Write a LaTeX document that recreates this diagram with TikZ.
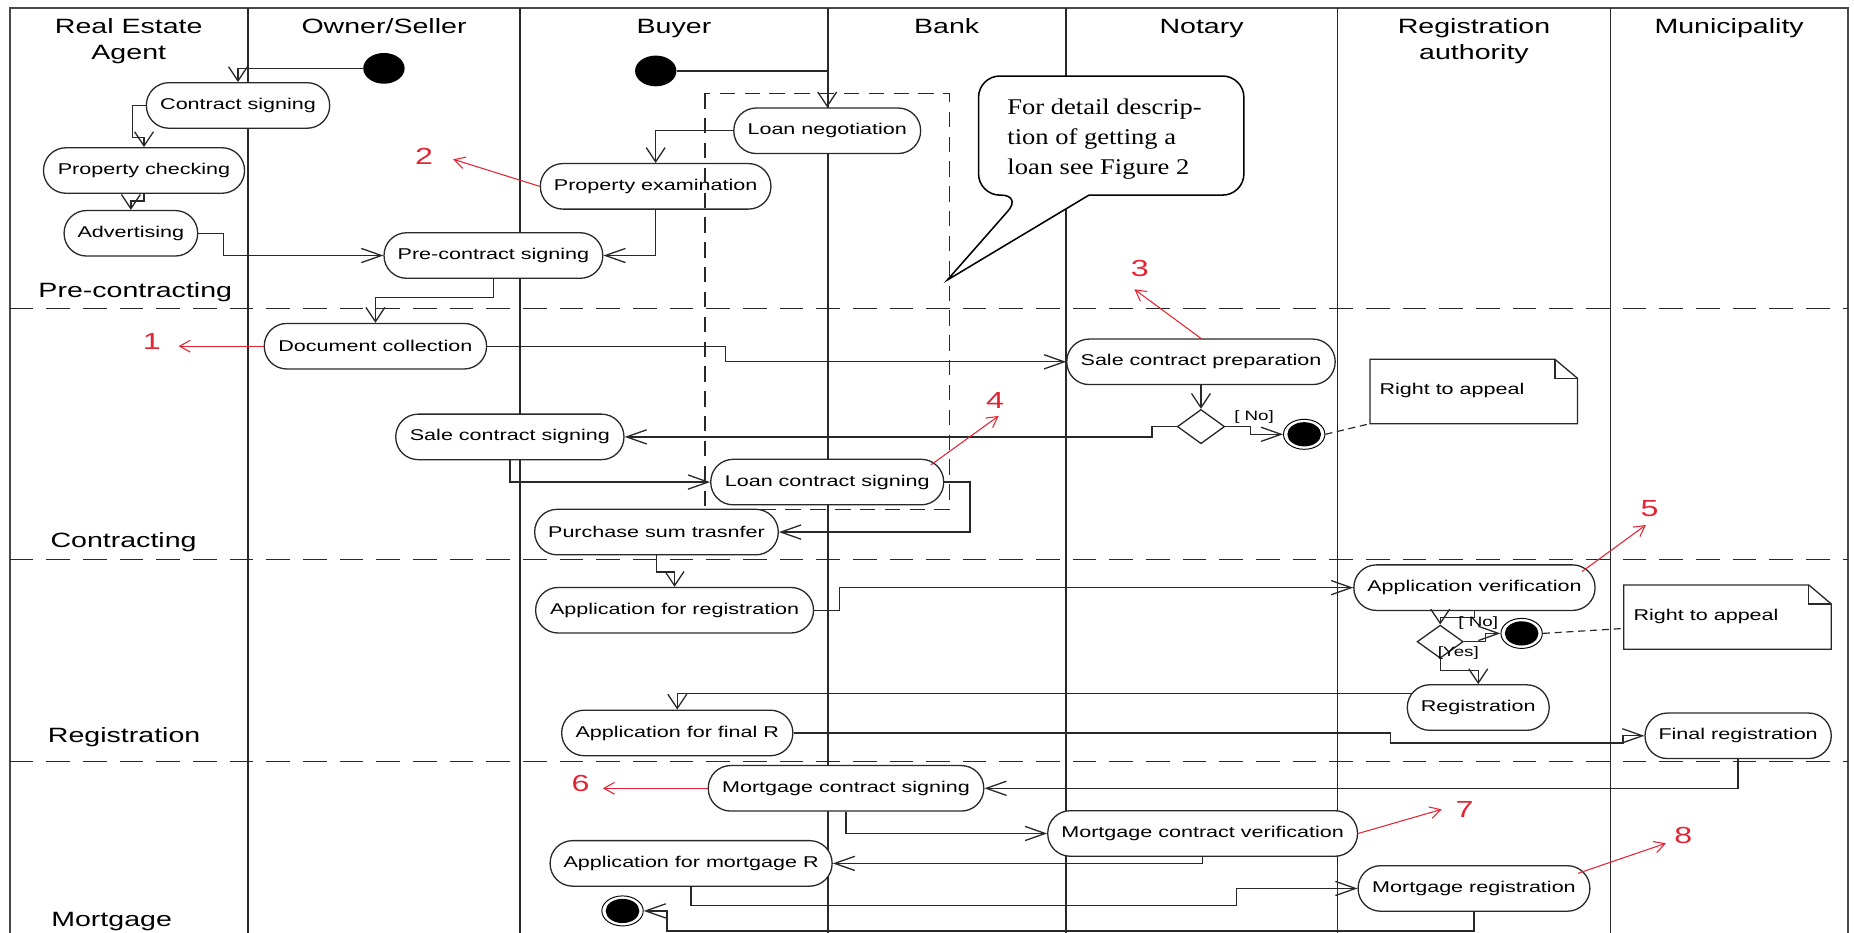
\documentclass[tikz,border=0pt]{standalone}
\usepackage{fontspec}
\setmainfont{Liberation Sans}[FakeStretch=1.38]
\newfontfamily\CalloutFont{Liberation Serif}[FakeStretch=1.18]
\usetikzlibrary{arrows.meta,shapes.geometric,calc}
\definecolor{lncol}{RGB}{40,40,40}
\definecolor{numred}{RGB}{226,36,52}
\newcommand\HdrFont{\fontsize{17.5}{21.7}\selectfont}
\newcommand\ActFont{\fontsize{13.2}{15}\selectfont}
\newcommand\NumFont{\fontsize{19.7}{22}\selectfont}
\newcommand\GuardFont{\fontsize{11.5}{13}\selectfont}
\newcommand\CallFont{\CalloutFont\fontsize{19}{25.4}\selectfont}
\tikzset{
  act/.style={draw=lncol, line width=1.1pt, fill=white, rounded corners=19pt, minimum height=38.5pt, inner sep=0pt, font=\ActFont},
  startdot/.style={ellipse, fill=black, minimum width=35pt, minimum height=26pt, inner sep=0pt},
  endring/.style={ellipse, draw=black, line width=0.8pt, fill=white, minimum width=35pt, minimum height=25.4pt, inner sep=0pt},
  endcore/.style={ellipse, fill=black, minimum width=28.5pt, minimum height=20.5pt, inner sep=0pt},
  decision/.style={diamond, draw=lncol, line width=1.1pt, fill=white, minimum width=40pt, minimum height=29pt, inner sep=0pt},
  flow/.style={draw=lncol, line width=1.1pt},
  arrv/.style={flow, -{Straight Barb[length=12pt,width=16pt]}},
  arrh/.style={flow, -{Straight Barb[length=17pt,width=12pt]}},
  numarrow/.style={draw=numred, line width=0.9pt, -{Straight Barb[length=9pt,width=10pt]}},
  num/.style={text=numred, font=\NumFont, inner sep=0pt},
  lane/.style={draw=lncol, line width=1.5pt},
  sep/.style={draw=lncol, line width=1.3pt, dash pattern=on 20pt off 11pt},
  hdr/.style={font=\HdrFont, align=center, inner sep=0pt},
  guard/.style={font=\GuardFont, inner sep=0pt},
  notetext/.style={font=\ActFont, inner sep=0pt, anchor=west},
  noteline/.style={draw=lncol, line width=1.1pt},
  notebox/.style={minimum width=175pt, minimum height=54pt, inner sep=0pt, anchor=north west},
  anchorline/.style={draw=lncol, line width=1pt, dash pattern=on 6pt off 4pt},
  loanbox/.style={draw=lncol, line width=1.2pt, dash pattern=on 13pt off 8pt}
}
\begin{document}
\begin{tikzpicture}[x=1pt,y=-1pt]
\useasboundingbox (0,0) rectangle (1568,789);
% frame and lanes
\draw[draw=lncol!85, line width=1.8pt] (8.3,789) -- (8.3,6.5) -- (1562.9,6.5) -- (1562.9,789);
\foreach \xx in {209.6,440,700,901.3,1131.2,1362} \draw[lane] (\xx,6.5) -- (\xx,789);
\foreach \yy in {261,473,644} \draw[sep] (8.3,\yy) -- (1562.9,\yy);

% headers
\node[hdr, anchor=north] (hRE) at (108.9,15.7) {Real Estate\\Agent};
\node[hdr, anchor=base] (hOS) at (324.8,28.3) {Owner/Seller};
\node[hdr, anchor=base] (hBu) at (570,28.3) {Buyer};
\node[hdr, anchor=base] (hBa) at (800.6,28.3) {Bank};
\node[hdr, anchor=base] (hNo) at (1016.2,28.3) {Notary};
\node[hdr, anchor=north] (hRA) at (1246.6,15.7) {Registration\\authority};
\node[hdr, anchor=base] (hMu) at (1462.4,28.3) {Municipality};

% phase labels
\node[hdr, anchor=base] (pPre) at (114.4,251.3) {Pre-contracting};
\node[hdr, anchor=base] (pCon) at (104.5,463.3) {Contracting};
\node[hdr, anchor=base] (pReg) at (105,627.8) {Registration};
\node[hdr, anchor=base] (pMor) at (94.4,783.3) {Mortgage};

% activities
\node[act, minimum width=155pt] (cs) at (201.3,89.2) {Contract signing};
\node[act, minimum width=170pt] (pc) at (121.8,144.2) {Property checking};
\node[act, minimum width=113pt] (adv) at (110.7,197.3) {Advertising};
\node[act, minimum width=185pt] (pcs) at (417.3,216.1) {Pre-contract signing};
\node[act, minimum width=158pt] (lnn) at (699.6,110.6) {Loan negotiation};
\node[act, minimum width=195pt] (pe) at (554.5,157.6) {Property examination};
\node[act, minimum width=188pt] (dc) at (317.5,292.8) {Document collection};
\node[act, minimum width=227pt] (scp) at (1015.7,306) {Sale contract preparation};
\node[act, minimum width=193pt] (scs) at (431.2,369.5) {Sale contract signing};
\node[act, minimum width=197pt] (lcs) at (699.6,407.7) {Loan contract signing};
\node[act, minimum width=206pt] (pst) at (555.2,450) {Purchase sum trasnfer};
\node[act, minimum width=235pt] (afr) at (570.5,516.1) {Application for registration};
\node[act, minimum width=204pt] (av) at (1247,497) {Application verification};
\node[act, minimum width=120pt] (reg) at (1250.2,598.4) {Registration};
\node[act, minimum width=195.5pt] (affr) at (572.8,619.9) {Application for final R};
\node[act, minimum width=157.5pt] (fr) at (1470,622.3) {Final registration};
\node[act, minimum width=233pt] (mcs) at (715.5,666.7) {Mortgage contract signing};
\node[act, minimum width=262pt] (mcv) at (1017.1,704.9) {Mortgage contract verification};
\node[act, minimum width=238.5pt] (amr) at (584.5,730.2) {Application for mortgage R};
\node[act, minimum width=196pt] (mr) at (1246.6,751.4) {Mortgage registration};

% start / end / decisions
\node[startdot] (s1) at (324.7,57.8) {};
\node[startdot] (s2) at (554.6,60) {};
\node[endring] (f1) at (1103,367.3) {};
\node[endcore] (f1c) at (f1) {};
\node[endring] (f2) at (1286.9,535.7) {};
\node[endcore] (f2c) at (f2) {};
\node[endring] (f3) at (526.5,770.4) {};
\node[endcore] (f3c) at (f3) {};
\node[decision] (d1) at (1015.7,360.8) {};
\node[decision, minimum width=39pt, minimum height=28pt] (d2) at (1218,542.7) {};

% connectors
\draw[arrv] (s1.west) -| (cs.north);
\draw[arrv] (cs.west) -- ++(-11.4,0) |- ($(pc.north)+(0,-8)$) -- (pc.north);
\draw[arrv] (pc.south) -- ++(0,6) -| (adv.north);
\draw[arrh] (adv.east) -- ++(21.5,0) |- (pcs.west);
\draw[arrh] (pe.south) |- (pcs.east);
\draw[arrv] (s2.east) -| (lnn.north);
\draw[arrv] (lnn.west) -| (pe.north);
\draw[arrv] (pcs.south) -- ++(0,15.5) -| (dc.north);
\draw[arrh] (dc.east) -- ++(201.4,0) |- (scp.west);
\draw[arrv] (scp.south) -- (d1.north);
\draw[arrh] (d1.west) -- ++(-20.8,0) |- (scs.east);
\draw[arrh] (d1.east) -- ++(21.6,0) |- (f1.west);
\node[guard] (g1) at (1060.6,352.4) {[ No]};
\draw[arrh] (scs.south) |- (lcs.west);
\draw[arrh] (lcs.east) -- ++(21.8,0) |- (pst.east);
\draw[arrv] (pst.south) -- ++(0,14) -| (afr.north);
\draw[arrh] (afr.east) -- ++(21.5,0) |- (av.west);
\draw[arrv] (av.south) -- ++(0,5.2) -| (d2.north);
\draw[arrh] (d2.east) -- ++(18.3,0) |- (f2.west);
\node[guard] (g2) at (1250.2,527.2) {[ No]};
\draw[arrv] (d2.south) -- ++(0,10) -| (reg.north);
\node[guard] (g3) at (1233.3,552.6) {[Yes]};
\draw[arrv] ($(reg.west)+(4.4,-12.1)$) -| (affr.north);
\draw[arrh] (affr.east) -- ++(504.7,0) -- ++(0,8.6) -- ++(196.8,0) |- (fr.west);
\draw[arrh] (fr.south) |- (mcs.east);
\draw[arrh] (mcs.south) |- (mcv.west);
\draw[arrh] (mcv.south) |- (amr.east);
\draw[arrh] (amr.south) -- ++(0,16.1) -- ++(461,0) |- (mr.west);
\draw[arrh] (mr.south) -- ++(0,16.1) -- ++(-682.6,0) |- (f3.east);

% loan detail region
\draw[loanbox] (596.1,78.9) rectangle (803.1,430.7);

% callout
\draw[draw=black, line width=1.3pt, fill=white] (940,165) [rounded corners=18pt] -- (1052,165) -- (1052,64.3) -- (827.6,64.3) -- (827.6,165) -- (864.3,165) [sharp corners] -- (801.2,236.8) -- (921,165) -- cycle;
\node[font=\CallFont, align=left, anchor=north west, inner sep=0pt] (calltext) at (851.8,83.5) {For detail descrip-\\tion of getting a\\loan see Figure 2};

% notes
\node[notebox] (n1) at (1158.7,303.9) {};
\draw[noteline, fill=white] (n1.north west) -- ($(n1.north east)+(-19,0)$) -- ($(n1.north east)+(0,16)$) -- (n1.south east) -- (n1.south west) -- cycle;
\draw[noteline] ($(n1.north east)+(-19,0)$) -- ($(n1.north east)+(-19,16)$) -- ($(n1.north east)+(0,16)$);
\node[notetext] (n1t) at ($(n1.west)+(7.8,-1.2)$) {Right to appeal};
\draw[anchorline] (f1.east) -- (n1.south west);
\node[notebox] (n2) at (1373.3,494.7) {};
\draw[noteline, fill=white] (n2.north west) -- ($(n2.north east)+(-19,0)$) -- ($(n2.north east)+(0,16)$) -- (n2.south east) -- (n2.south west) -- cycle;
\draw[noteline] ($(n2.north east)+(-19,0)$) -- ($(n2.north east)+(-19,16)$) -- ($(n2.north east)+(0,16)$);
\node[notetext] (n2t) at ($(n2.west)+(8.1,-0.3)$) {Right to appeal};
\draw[anchorline] (f2.east) -- ($(n2.west)+(0,9.6)$);

% numbered references
\coordinate (k1e) at (151,292.8);
\coordinate (k2e) at (383.3,134.7);
\coordinate (k3e) at (959.4,244.7);
\coordinate (k4e) at (844.6,351.8);
\coordinate (k5e) at (1392,444);
\coordinate (k6e) at (509.8,666.7);
\coordinate (k7e) at (1219.3,684.5);
\coordinate (k8e) at (1408.9,713.2);
\draw[numarrow] (dc.west) -- (k1e);
\draw[numarrow] (pe.west) -- (k2e);
\draw[numarrow] (scp.north) -- (k3e);
\draw[numarrow] ($(lcs.east)+(-11.4,-14.5)$) -- (k4e);
\draw[numarrow] ($(av.east)+(-11.6,-13.6)$) -- (k5e);
\draw[numarrow] (mcs.west) -- (k6e);
\draw[numarrow] (mcv.east) -- (k7e);
\draw[numarrow] ($(mr.east)+(-10.6,-12.8)$) -- (k8e);
\node[num] (k1) at (128.4,289) {1};
\node[num] (k2) at (358.7,131.9) {2};
\node[num] (k3) at (964,227) {3};
\node[num] (k4) at (841.6,338.3) {4};
\node[num] (k5) at (1395,430) {5};
\node[num] (k6) at (490.9,663) {6};
\node[num] (k7) at (1238.7,685) {7};
\node[num] (k8) at (1423.7,706.2) {8};
\end{tikzpicture}
\end{document}
